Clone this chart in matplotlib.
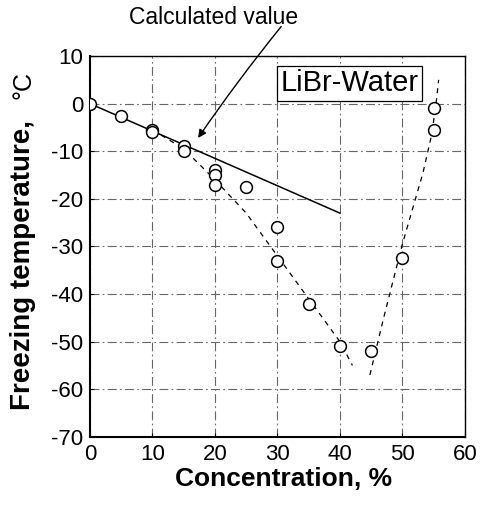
import matplotlib
matplotlib.use("Agg")
import matplotlib.pyplot as plt

plt.rcParams['font.family'] = ['Liberation Sans', 'DejaVu Sans']
plt.rcParams['axes.unicode_minus'] = False

# measured points
conc = [0, 5, 10, 10, 15, 15, 20, 20, 20, 25, 30, 30, 35, 40, 45, 50, 55, 55]
temp = [0, -2.5, -5.5, -6, -9, -10, -14, -15, -17, -17.5, -26, -33, -42, -51, -52, -32.5, -1, -5.5]

# calculated value line
calc_x = [0, 40]
calc_y = [0, -23]

# fitted dashed curves (ice side and salt side)
ice_x = [10, 15, 20, 25, 30, 35, 40, 42]
ice_y = [-5.5, -9.5, -16, -23, -32, -41, -50, -55]
salt_x = [44.8, 47, 50, 53.3, 54.6, 55.3, 55.8]
salt_y = [-57, -45, -29.5, -14.5, -7, -1, 5]

xticks = [0, 10, 20, 30, 40, 50, 60]
yticks = [10, 0, -10, -20, -30, -40, -50, -60, -70]

fig = plt.figure(figsize=(4.8, 5.05), dpi=100)
ax = fig.add_axes([0.1875, 0.135, 0.781, 0.754])

ax.grid(True, color='0.4', linestyle=(0, (8, 3, 1.5, 3)), linewidth=0.8)
ax.plot(calc_x, calc_y, color='black', linewidth=1.1)
ax.plot(ice_x, ice_y, color='black', linestyle=(0, (4, 4)), linewidth=0.9)
ax.plot(salt_x, salt_y, color='black', linestyle=(0, (4, 4)), linewidth=0.9)
ax.plot(conc, temp, linestyle='none', marker='o', markersize=8.5,
        markerfacecolor='white', markeredgecolor='black', markeredgewidth=1.1, zorder=5)

ax.set_xlim(0, 60)
ax.set_ylim(-70, 10)
ax.set_xticks(xticks)
ax.set_yticks(yticks)
ax.tick_params(direction='in', length=3, labelsize=16, pad=5)
for s in ax.spines.values():
    s.set_linewidth(1.0)
ax.spines['left'].set_linewidth(1.5)
ax.spines['bottom'].set_linewidth(1.5)

fig.text(0.59, 0.052, 'Concentration, %', fontsize=19, fontweight='bold',
         ha='center', va='center')
fig.text(0.048, 0.476, 'Freezing temperature,', fontsize=20, fontweight='bold',
         rotation=90, ha='center', va='center')
fig.text(0.048, 0.832, '\u00b0C', fontsize=18, rotation=90, ha='center', va='center')

ax.text(41.5, 4.3, 'LiBr-Water', fontsize=21, ha='center', va='center',
        bbox=dict(boxstyle='square,pad=0.12', facecolor='white', edgecolor='black', linewidth=0.9),
        zorder=6)

ax.text(19.7, 18, 'Calculated value', fontsize=16.5, ha='center', va='center', clip_on=False)
ax.annotate('', xy=(17.3, -7.2), xytext=(30.6, 16.2), annotation_clip=False,
            arrowprops=dict(arrowstyle='-|>', color='black', linewidth=1.0,
                            shrinkA=0, shrinkB=0, mutation_scale=12,
                            connectionstyle='arc3,rad=0.02'))

fig.savefig('out.png', dpi=100)
